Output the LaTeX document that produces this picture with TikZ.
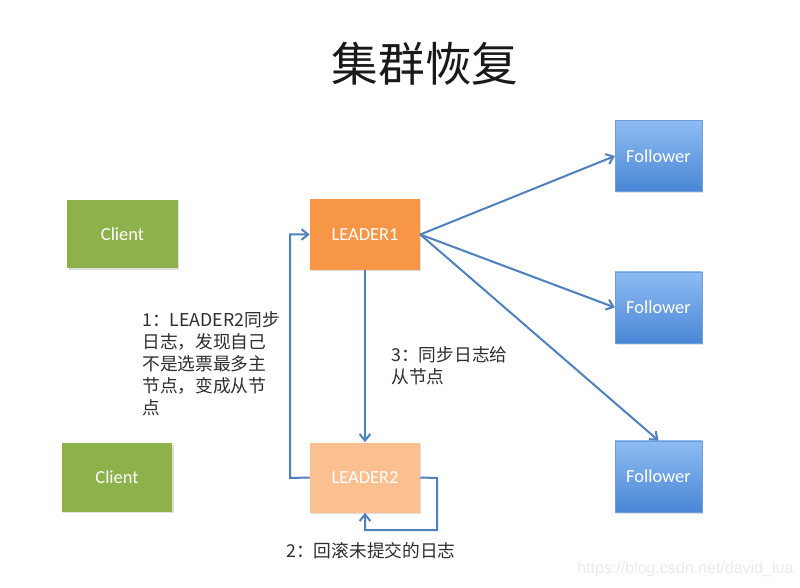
\documentclass[tikz,border=0pt]{standalone}
\usepackage{fontspec}
\setmainfont{Carlito}
\newfontfamily\cjk{Noto Sans CJK SC}
\newfontfamily\wmfont{Liberation Sans}
\usetikzlibrary{arrows.meta,shadows}
\definecolor{cgreen}{HTML}{8DB24C}
\definecolor{corange}{HTML}{F79646}
\definecolor{clight}{HTML}{FAC090}
\definecolor{cbluetop}{HTML}{8DBCF2}
\definecolor{cbluebot}{HTML}{4A86D6}
\definecolor{carrow}{HTML}{4F81BD}
\definecolor{ctext}{HTML}{2E2E2E}
\tikzset{
  box/.style={rectangle, inner sep=0pt, text=white, font=\fontsize{13.8}{15}\selectfont,
    drop shadow={opacity=0.25, shadow xshift=1pt, shadow yshift=-1.2pt}},
  clientbox/.style={box, fill=cgreen, minimum width=83pt, minimum height=51.5pt},
  leadbox/.style={box, minimum width=82.5pt, minimum height=52.5pt},
  folbox/.style={box, top color=cbluetop, bottom color=cbluebot, draw=cbluebot!80!white, line width=0.4pt,
    minimum width=65pt, minimum height=53.5pt},
  link/.style={draw=carrow, line width=1.5pt, -{Straight Barb[length=5pt,width=8pt]}},
  lab/.style={text=ctext, font=\cjk\fontsize{13.3}{16.5}\selectfont, align=left, inner sep=0pt}
}
\begin{document}
\begin{tikzpicture}[x=0.75pt,y=-0.75pt]
\useasboundingbox (0,0) rectangle (800,588);
\fill[white] (0,0) rectangle (800,588);
\node[text=black!90, font=\cjk\fontsize{35}{40}\selectfont] (title) at (425,64) {集群恢复};
\node[clientbox] (c1) at (122.5,234) {Client};
\node[clientbox] (c2) at (117,477.5) {Client};
\node[leadbox, fill=corange] (l1) at (365,234.5) {LEADER1};
\node[leadbox, fill=clight] (l2) at (365,477.5) {LEADER2};
\node[folbox] (f1) at (658.5,156) {Follower};
\node[folbox] (f2) at (658.5,307.5) {Follower};
\node[folbox] (f3) at (658.5,476.5) {Follower};
\draw[link] (l1.east) -- (f1.west);
\draw[link] (l1.east) -- (f2.west);
\draw[link] (l1.east) -- (f3.north);
\draw[link] (l1.south) -- (l2.north);
\coordinate (lft) at (290,478);
\draw[link] (l2.west) -- (lft) |- (l1.west);
\coordinate (r1) at (437,478);
\coordinate (r2) at (437,530);
\coordinate (r3) at (365,530);
\draw[link] (l2.east) -- (r1) -- (r2) -- (r3) -- (l2.south);
\node[lab, anchor=north west] (t1) at (142,311) {1：LEADER2同步\\日志，发现自己\\不是选票最多主\\节点，变成从节\\点};
\node[lab, anchor=north west] (t3) at (391,346) {3：同步日志给\\从节点};
\node[lab, anchor=west] (t2) at (286,551) {2：回滚未提交的日志};
\node[text=black!8, font=\wmfont\fontsize{12}{14}\selectfont, anchor=west, inner sep=0pt] (wm) at (577,569) {https://blog.csdn.net/david\_lua};
\end{tikzpicture}
\end{document}
